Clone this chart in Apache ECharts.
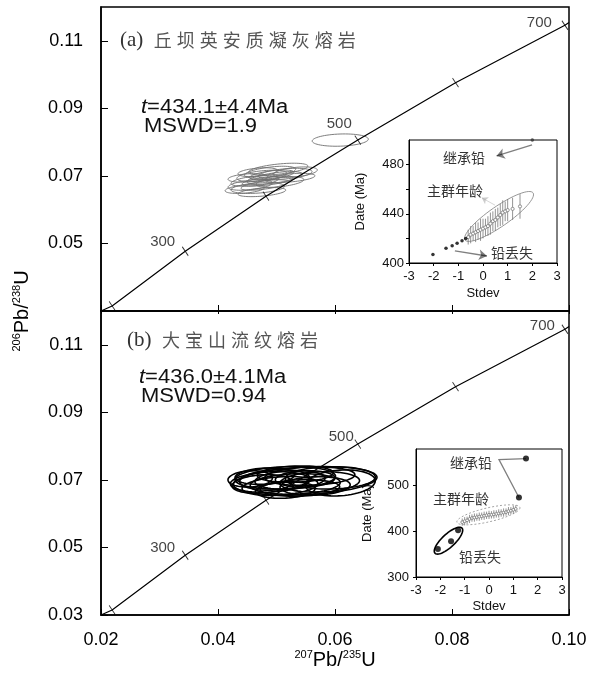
<!DOCTYPE html>
<html>
<head>
<meta charset="utf-8">
<script src="https://cdn.jsdelivr.net/npm/echarts@6/dist/echarts.min.js"></script>
<style>html,body{margin:0;padding:0;background:#fff}#main{width:594px;height:682px}</style>
</head>
<body>
<div id="main"></div>
<script>
// concordia curve
var concAge = [190, 200, 300, 400, 500, 600, 700, 705];
var concX = [0.0200, 0.0219, 0.0344, 0.0482, 0.0639, 0.0806, 0.0993, 0.1000];
var concY = [0.0300, 0.0315, 0.0477, 0.0640, 0.0806, 0.0976, 0.1146, 0.1154];
var tickAges = [200, 300, 400, 500, 600, 700];
var labelAges = [300, 500, 700];

// error ellipses: cx, cy, rx, ry, tilt(deg)
var ellA = [
    [0.0503,0.0720,0.0051,0.0015,6],[0.0489,0.0711,0.0044,0.0015,7],[0.0515,0.0706,0.0046,0.0015,5],
    [0.0475,0.0700,0.0043,0.0015,6],[0.0497,0.0694,0.0048,0.0015,8],[0.0463,0.0685,0.0041,0.0014,6],
    [0.0485,0.0685,0.0044,0.0012,7],[0.0523,0.0694,0.0043,0.0012,5],[0.0455,0.0673,0.0038,0.0014,6],
    [0.0468,0.0664,0.0046,0.0015,4],[0.0446,0.0661,0.0034,0.0012,5],[0.0480,0.0673,0.0041,0.0012,8],
    [0.0506,0.0682,0.0041,0.0014,6],[0.0492,0.0703,0.0038,0.0012,7],[0.0468,0.0711,0.0034,0.0012,5],
    [0.0532,0.0711,0.0038,0.0014,6],[0.0451,0.0694,0.0034,0.0012,4],[0.0475,0.0652,0.0041,0.0012,5],
    [0.0609,0.0806,0.0048,0.0018,2]
];
var ellB = [
    [0.0549,0.0697,0.0123,0.0041,3],[0.0515,0.0706,0.0086,0.0033,2],[0.0489,0.0694,0.0068,0.0030,3],
    [0.0532,0.0688,0.0077,0.0030,2],[0.0557,0.0711,0.0077,0.0027,2],[0.0506,0.0682,0.0065,0.0027,4],
    [0.0480,0.0711,0.0051,0.0024,3],[0.0540,0.0676,0.0068,0.0024,2],[0.0523,0.0700,0.0060,0.0027,3],
    [0.0574,0.0694,0.0068,0.0030,2],[0.0497,0.0700,0.0060,0.0030,3],[0.0475,0.0688,0.0051,0.0027,4],
    [0.0549,0.0703,0.0051,0.0024,2],[0.0515,0.0670,0.0051,0.0024,3],[0.0592,0.0706,0.0077,0.0033,1],
    [0.0532,0.0717,0.0065,0.0024,2],[0.0455,0.0703,0.0038,0.0024,3],[0.0566,0.0682,0.0060,0.0027,2],
    [0.0609,0.0691,0.0060,0.0038,4]
];

// inset (a): Date vs Stdev
var aLostX = [-2.03, -1.5, -1.25, -1.05, -0.85, -0.7];
var aLostY = [407, 412, 414, 416, 418, 420];
var aMainX = [-0.6,-0.5,-0.4,-0.3,-0.2,-0.1,0,0.1,0.2,0.3,0.4,0.5,0.6,0.7,0.8,0.9,1.0,1.2,1.5];
var aMainY = [421,423,424,425,426,427,428,429,430,432,434,435,437,439,441,442,443,444,446];
var aMainErr = [6,7,6,8,7,9,8,7,8,9,8,9,8,9,10,8,9,9,10];
var aInherit = [[2.0, 500]];
var aMainEllipse = [[-0.73, 418.7, 2.03, 457]];
var aArrowInherit = [[1.99, 496], [0.55, 487]];
var aArrowLost = [[-1.14, 409.8], [0.16, 405.7]];
var aArrowMain = [[0.49, 447], [-0.05, 453]];

// inset (b)
var bLostX = [-2.1, -1.56, -1.27];
var bLostY = [361, 378, 402];
var bInheritX = [1.23, 1.52];
var bInheritY = [474, 559];
var bMainX = [-1.1,-1.0,-0.9,-0.8,-0.7,-0.6,-0.5,-0.4,-0.3,-0.2,-0.1,0,0.1,0.2,0.3,0.4,0.5,0.6,0.7,0.8,0.9,1.0,1.1];
var bMainY = [420,422,424,427,429,430,431,432,433,434,435,436,436,437,438,439,440,441,442,444,445,447,449];
var bMainErr = [8,9,8,9,8,9,8,9,8,9,8,9,8,9,8,9,8,9,8,9,8,9,8];
var bMainEllipse = [[-1.32, 420, 1.27, 452]];
var bLostEllipse = [[-2.22, 352, -1.11, 407]];
var bInheritLine = [[1.52, 559], [0.41, 557], [1.23, 474]];

var chart = echarts.init(document.getElementById('main'));

function zip(xs, ys) {
    return xs.map(function (x, i) { return [x, ys[i]]; });
}
function zip3(xs, ys, es) {
    return xs.map(function (x, i) { return [x, ys[i], es[i]]; });
}

function ellipseItem(color, width) {
    return function (params, api) {
        var c = api.coord([api.value(0), api.value(1)]);
        var s = api.size([api.value(2), api.value(3)]);
        var a = api.value(4) * Math.PI / 180;
        var pts = [];
        for (var k = 0; k < 64; k++) {
            var t = k / 64 * 2 * Math.PI;
            var ex = s[0] * Math.cos(t), ey = s[1] * Math.sin(t);
            pts.push([c[0] + ex * Math.cos(a) + ey * Math.sin(a), c[1] - ex * Math.sin(a) + ey * Math.cos(a)]);
        }
        return {type: 'polygon', shape: {points: pts}, style: {fill: 'none', stroke: color, lineWidth: width}};
    };
}

function spanEllipse(color, width, minor, dash) {
    return function (params, api) {
        var p = api.coord([api.value(0), api.value(1)]);
        var q = api.coord([api.value(2), api.value(3)]);
        var cx = (p[0] + q[0]) / 2, cy = (p[1] + q[1]) / 2;
        var a = Math.sqrt((q[0] - p[0]) * (q[0] - p[0]) + (q[1] - p[1]) * (q[1] - p[1])) / 2;
        var th = Math.atan2(q[1] - p[1], q[0] - p[0]);
        var pts = [];
        for (var k = 0; k < 64; k++) {
            var t = k / 64 * 2 * Math.PI;
            var ex = a * Math.cos(t), ey = minor * Math.sin(t);
            pts.push([cx + ex * Math.cos(th) - ey * Math.sin(th), cy + ex * Math.sin(th) + ey * Math.cos(th)]);
        }
        return {type: 'polygon', shape: {points: pts},
            style: {fill: 'none', stroke: color, lineWidth: width, lineDash: dash || null}};
    };
}

function errBar(color, r) {
    return function (params, api) {
        var x = api.value(0), y = api.value(1), e = api.value(2);
        var lo = api.coord([x, y - e]), hi = api.coord([x, y + e]), c = api.coord([x, y]);
        return {type: 'group', children: [
            {type: 'line', shape: {x1: lo[0], y1: lo[1], x2: hi[0], y2: hi[1]}, style: {stroke: color, lineWidth: 0.8}},
            {type: 'circle', shape: {cx: c[0], cy: c[1], r: r}, style: {fill: '#fff', stroke: color, lineWidth: 0.8}}
        ]};
    };
}

var labelOffsets = [
    {300: [0, -9], 500: [4, -16], 700: [-3, -2]},
    {300: [0, -7], 500: [6, -7], 700: [0, -3]}
];

function concordiaSeries(idx) {
    var ticks = tickAges.map(function (age) {
        var i = concAge.indexOf(age);
        var lab = labelAges.indexOf(age) >= 0;
        return {
            value: [concX[i], concY[i]],
            label: {show: lab, formatter: String(age), offset: labelOffsets[idx][age] || [0, 0]}
        };
    });
    return [{
        type: 'line', xAxisIndex: idx, yAxisIndex: idx,
        data: zip(concX, concY), symbol: 'none', silent: true,
        lineStyle: {color: '#000', width: 1.2}
    }, {
        type: 'scatter', xAxisIndex: idx, yAxisIndex: idx,
        data: ticks, symbol: 'path://M0,0L6,9', symbolSize: [6, 9],
        itemStyle: {color: 'none', borderColor: '#000', borderWidth: 1},
        label: {position: 'left', distance: 5, color: '#111', fontSize: 15, fontFamily: 'Liberation Sans'}
    }];
}

var mainFont = {color: '#000', fontSize: 18, fontFamily: 'Liberation Sans'};
var insetFont = {color: '#111', fontSize: 13, fontFamily: 'Liberation Sans'};
var insetLine = {onZero: false, lineStyle: {color: '#000', width: 1}};

function fix2(v) { return v.toFixed(2); }

var series = [].concat(
    concordiaSeries(0),
    concordiaSeries(1),
    [
        {type: 'custom', xAxisIndex: 0, yAxisIndex: 0, renderItem: ellipseItem('#6f6f6f', 0.9), data: ellA, silent: true, z: 1},
        {type: 'custom', xAxisIndex: 1, yAxisIndex: 1, renderItem: ellipseItem('#000', 1.6), data: ellB, silent: true, z: 1},

        // inset (a)
        {type: 'custom', xAxisIndex: 2, yAxisIndex: 2, renderItem: spanEllipse('#8a8a8a', 0.9, 10), data: aMainEllipse, silent: true},
        {type: 'custom', xAxisIndex: 2, yAxisIndex: 2, renderItem: errBar('#777', 1.6), data: zip3(aMainX, aMainY, aMainErr), silent: true},
        {type: 'scatter', xAxisIndex: 2, yAxisIndex: 2, data: zip(aLostX, aLostY), symbolSize: 3.5, itemStyle: {color: '#000'}},
        {type: 'scatter', xAxisIndex: 2, yAxisIndex: 2, data: aInherit, symbolSize: 3.5, itemStyle: {color: '#333'}},
        {type: 'lines', coordinateSystem: 'cartesian2d', xAxisIndex: 2, yAxisIndex: 2, symbol: ['none', 'arrow'], symbolSize: 8,
            lineStyle: {color: '#000', width: 1.3}, data: [{coords: aArrowInherit}, {coords: aArrowLost}]},
        {type: 'lines', coordinateSystem: 'cartesian2d', xAxisIndex: 2, yAxisIndex: 2, symbol: ['none', 'arrow'], symbolSize: 6,
            lineStyle: {color: '#999', width: 0.8}, data: [{coords: aArrowMain}]},

        // inset (b)
        {type: 'custom', xAxisIndex: 3, yAxisIndex: 3, renderItem: spanEllipse('#999', 0.9, 7, [2, 2]), data: bMainEllipse, silent: true},
        {type: 'custom', xAxisIndex: 3, yAxisIndex: 3, renderItem: errBar('#777', 1.4), data: zip3(bMainX, bMainY, bMainErr), silent: true},
        {type: 'custom', xAxisIndex: 3, yAxisIndex: 3, renderItem: spanEllipse('#000', 1.6, 6.5), data: bLostEllipse, silent: true},
        {type: 'lines', coordinateSystem: 'cartesian2d', xAxisIndex: 3, yAxisIndex: 3, polyline: true,
            lineStyle: {color: '#000', width: 1.3}, data: [{coords: bInheritLine}]},
        {type: 'scatter', xAxisIndex: 3, yAxisIndex: 3, data: zip(bLostX, bLostY), symbolSize: 6, itemStyle: {color: '#000'}},
        {type: 'scatter', xAxisIndex: 3, yAxisIndex: 3, data: zip(bInheritX, bInheritY), symbolSize: 6, itemStyle: {color: '#000'}}
    ]
);

function spaced(s) {
    return s.split('').map(function (ch) { return '{c|' + ch + '}'; }).join('');
}
var titleRich = {
    p: {fontFamily: 'Liberation Serif', fontSize: 21, fill: '#333', padding: [0, 8, 0, 0]},
    c: {fontFamily: 'Noto Sans CJK SC', fontSize: 18, fill: '#555', padding: [0, 2.5]}
};
var statRich = {
    i: {fontStyle: 'italic', fontFamily: 'Liberation Sans', fontSize: 20, fill: '#111'},
    n: {fontFamily: 'Liberation Sans', fontSize: 20, fill: '#111'}
};
var supRich = {
    s: {fontFamily: 'Liberation Sans', fontSize: 11, fill: '#000', verticalAlign: 'top', lineHeight: 22},
    n: {fontFamily: 'Liberation Sans', fontSize: 20, fill: '#000', lineHeight: 22}
};
var cjkText = {fontFamily: 'Noto Sans CJK SC', fontSize: 14, fill: '#333', align: 'center', verticalAlign: 'middle'};

function statText(x, y, txt) {
    return {type: 'text', x: x, y: y, scaleX: 1.1, style: {text: txt, rich: statRich, verticalAlign: 'middle'}};
}

var graphics = [
    {type: 'text', x: 120, y: 40, style: {text: '{p|(a)}' + spaced('丘坝英安质凝灰熔岩'), rich: titleRich, verticalAlign: 'middle'}},
    {type: 'text', x: 127, y: 340, style: {text: '{p|(b)}' + spaced('大宝山流纹熔岩'), rich: titleRich, verticalAlign: 'middle'}},
    statText(141, 107, '{i|t}{n|=434.1±4.4Ma}'),
    statText(144, 126, '{n|MSWD=1.9}'),
    statText(139, 377, '{i|t}{n|=436.0±4.1Ma}'),
    statText(141, 396, '{n|MSWD=0.94}'),
    {type: 'text', x: 335, y: 660, style: {text: '{s|207}{n|Pb/}{s|235}{n|U}', rich: supRich, align: 'center', verticalAlign: 'middle'}},
    {type: 'text', x: 22, y: 311, rotation: Math.PI / 2,
        style: {text: '{s|206}{n|Pb/}{s|238}{n|U}', rich: supRich, align: 'center', verticalAlign: 'middle'}},
    {type: 'text', x: 464, y: 158, style: Object.assign({text: '继承铅'}, cjkText)},
    {type: 'text', x: 455, y: 191, style: Object.assign({text: '主群年龄'}, cjkText)},
    {type: 'text', x: 512, y: 253, style: Object.assign({text: '铅丢失'}, cjkText)},
    {type: 'text', x: 471, y: 463, style: Object.assign({text: '继承铅'}, cjkText)},
    {type: 'text', x: 461, y: 499, style: Object.assign({text: '主群年龄'}, cjkText)},
    {type: 'text', x: 480, y: 557, style: Object.assign({text: '铅丢失'}, cjkText)}
];

var option = {
    animation: false,
    backgroundColor: '#fff',
    grid: [
        {left: 101, top: 7, width: 468, height: 304, show: true, borderColor: '#000', borderWidth: 1.5},
        {left: 101, top: 311, width: 468, height: 304, show: true, borderColor: '#000', borderWidth: 1.5},
        {left: 409, top: 140, width: 148, height: 123, show: true, borderColor: '#000', borderWidth: 1},
        {left: 416, top: 449, width: 146, height: 128, show: true, borderColor: '#000', borderWidth: 1}
    ],
    xAxis: [
        {gridIndex: 0, type: 'value', min: 0.02, max: 0.10, interval: 0.02, splitLine: {show: false},
            axisLine: {onZero: false, lineStyle: {color: '#000', width: 1.5}}, axisTick: {inside: true, length: 6, lineStyle: {color: '#000'}},
            axisLabel: {show: false}},
        {gridIndex: 1, type: 'value', min: 0.02, max: 0.10, interval: 0.02, splitLine: {show: false},
            axisLine: {onZero: false, lineStyle: {color: '#000', width: 1.5}}, axisTick: {inside: true, length: 6, lineStyle: {color: '#000'}},
            axisLabel: Object.assign({margin: 16, formatter: fix2}, mainFont)},
        {gridIndex: 2, type: 'value', min: -3, max: 3, interval: 1, splitLine: {show: false},
            axisLine: insetLine, axisTick: {length: 3, lineStyle: {color: '#000'}},
            axisLabel: Object.assign({margin: 7}, insetFont),
            name: 'Stdev', nameLocation: 'middle', nameGap: 24, nameTextStyle: insetFont},
        {gridIndex: 3, type: 'value', min: -3, max: 3, interval: 1, splitLine: {show: false},
            axisLine: insetLine, axisTick: {length: 3, lineStyle: {color: '#000'}},
            axisLabel: Object.assign({margin: 7}, insetFont),
            name: 'Stdev', nameLocation: 'middle', nameGap: 23, nameTextStyle: insetFont},
        {gridIndex: 1, type: 'value', position: 'top', min: 0.02, max: 0.10, interval: 0.02, splitLine: {show: false},
            axisLine: {show: false, onZero: false}, axisTick: {inside: true, length: 3, lineStyle: {color: '#000'}},
            axisLabel: {show: false}}
    ],
    yAxis: [
        {gridIndex: 0, type: 'value', min: 0.03, max: 0.12, interval: 0.02, splitLine: {show: false},
            axisLine: {onZero: false, lineStyle: {color: '#000', width: 1.5}}, axisTick: {inside: true, length: 7, lineStyle: {color: '#000'}},
            axisLabel: Object.assign({margin: 18, formatter: fix2, showMinLabel: false, showMaxLabel: false}, mainFont)},
        {gridIndex: 1, type: 'value', min: 0.03, max: 0.12, interval: 0.02, splitLine: {show: false},
            axisLine: {onZero: false, lineStyle: {color: '#000', width: 1.5}}, axisTick: {inside: true, length: 7, lineStyle: {color: '#000'}},
            axisLabel: Object.assign({margin: 18, formatter: fix2, showMaxLabel: false}, mainFont)},
        {gridIndex: 2, type: 'value', min: 400, max: 500, interval: 20, splitLine: {show: false},
            axisLine: insetLine, axisTick: {length: 3, lineStyle: {color: '#000'}},
            axisLabel: Object.assign({margin: 5, showMaxLabel: false,
                formatter: function (v) { return v % 40 === 0 ? String(v) : ''; }}, insetFont),
            name: 'Date (Ma)', nameLocation: 'middle', nameGap: 42, nameTextStyle: insetFont},
        {gridIndex: 3, type: 'value', min: 300, max: 580, interval: 100, splitLine: {show: false},
            axisLine: insetLine, axisTick: {length: 3, lineStyle: {color: '#000'}},
            axisLabel: Object.assign({margin: 7, showMaxLabel: false}, insetFont),
            name: 'Date (Ma)', nameLocation: 'middle', nameGap: 42, nameTextStyle: insetFont}
    ],
    series: series,
    graphic: graphics
};

chart.setOption(option);
</script>
</body>
</html>
